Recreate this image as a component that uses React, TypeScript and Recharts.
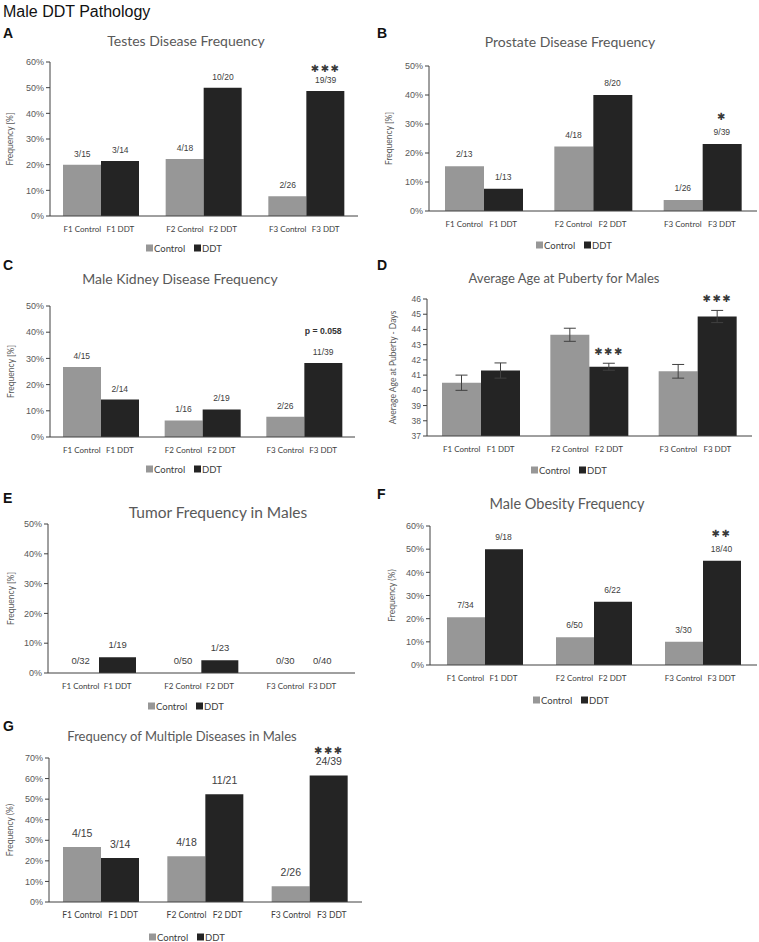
import { ComposedChart, Bar, Line, XAxis, YAxis, LabelList, ErrorBar } from 'recharts';

const generations = ['F1', 'F2', 'F3'];

// A - testes
const testesControl = [20.0, 22.2, 7.7];
const testesDDT = [21.4, 50.0, 48.7];
const testesControlLabels = ['3/15', '4/18', '2/26'];
const testesDDTLabels = ['3/14', '10/20', '19/39'];
const testesSig = ['', '', '✱✱✱'];

// B - prostate
const prostateControl = [15.4, 22.2, 3.8];
const prostateDDT = [7.7, 40.0, 23.1];
const prostateControlLabels = ['2/13', '4/18', '1/26'];
const prostateDDTLabels = ['1/13', '8/20', '9/39'];
const prostateSig = ['', '', '✱'];

// C - kidney
const kidneyControl = [26.7, 6.3, 7.7];
const kidneyDDT = [14.3, 10.5, 28.2];
const kidneyControlLabels = ['4/15', '1/16', '2/26'];
const kidneyDDTLabels = ['2/14', '2/19', '11/39'];
const kidneySig = ['', '', 'p = 0.058'];

// D - puberty age (days)
const pubertyControl = [40.5, 43.65, 41.25];
const pubertyDDT = [41.3, 41.55, 44.85];
const pubertyControlErr = [0.5, 0.43, 0.45];
const pubertyDDTErr = [0.5, 0.23, 0.4];
const pubertySig = ['', '✱✱✱', '✱✱✱'];

// E - tumor
const tumorControl = [0, 0, 0];
const tumorDDT = [5.3, 4.3, 0];
const tumorControlLabels = ['0/32', '0/50', '0/30'];
const tumorDDTLabels = ['1/19', '1/23', '0/40'];

// F - obesity
const obesityControl = [20.6, 12.0, 10.0];
const obesityDDT = [50.0, 27.3, 45.0];
const obesityControlLabels = ['7/34', '6/50', '3/30'];
const obesityDDTLabels = ['9/18', '6/22', '18/40'];
const obesitySig = ['', '', '✱✱'];

// G - multiple diseases
const multipleControl = [26.7, 22.2, 7.7];
const multipleDDT = [21.4, 52.4, 61.5];
const multipleControlLabels = ['4/15', '4/18', '2/26'];
const multipleDDTLabels = ['3/14', '11/21', '24/39'];
const multipleSig = ['', '', '✱✱✱'];

const CONTROL = '#979797';
const DDT = '#242424';
const AXIS = '#404040';
const SANS = 'Lato, "Open Sans", sans-serif';
const ARIAL = '"Liberation Sans", Arial, sans-serif';

const rowsOf = (c: number[], d: number[], cl?: string[], dl?: string[], sig?: string[], ce?: number[], de?: number[]) =>
  generations.map((g, i) => ({
    gen: g,
    control: c[i],
    ddt: d[i],
    cLab: cl ? cl[i] : null,
    dLab: dl ? dl[i] : null,
    sig: sig && sig[i] ? sig[i] : null,
    cErr: ce ? ce[i] : 0,
    dErr: de ? de[i] : 0,
  }));

const range = (a: number, b: number, s: number) => {
  const out: number[] = [];
  for (let v = a; v <= b; v += s) out.push(v);
  return out;
};

const panels = [
  {
    key: 'A', left: 0, plot: { x0: 50, x1: 358, y0: 62, y1: 216 }, domain: [0, 60], ticks: range(0, 60, 10), pct: true,
    rows: rowsOf(testesControl, testesDDT, testesControlLabels, testesDDTLabels, testesSig),
    barSize: 38, yLabel: 'Frequency [%]', yLabelX: 10, labelSize: 8.5, labelOffset: 8, sigOffset: 19, tickSize: 8, tickSpread: 0,
  },
  {
    key: 'B', left: 380, plot: { x0: 429, x1: 757, y0: 66, y1: 211 }, domain: [0, 50], ticks: range(0, 50, 10), pct: true,
    rows: rowsOf(prostateControl, prostateDDT, prostateControlLabels, prostateDDTLabels, prostateSig),
    barSize: 39, yLabel: 'Frequency [%]', yLabelX: 389, labelSize: 8.5, labelOffset: 9, sigOffset: 24, tickSize: 8, tickSpread: 0,
  },
  {
    key: 'C', left: 0, plot: { x0: 50, x1: 355, y0: 306, y1: 437 }, domain: [0, 50], ticks: range(0, 50, 10), pct: true,
    rows: rowsOf(kidneyControl, kidneyDDT, kidneyControlLabels, kidneyDDTLabels, kidneySig),
    barSize: 38, yLabel: 'Frequency [%]', yLabelX: 11, labelSize: 8.5, labelOffset: 8, sigOffset: 29, tickSize: 8, tickSpread: 0, sigText: true,
  },
  {
    key: 'D', left: 380, plot: { x0: 427, x1: 752, y0: 299, y1: 436 }, domain: [37, 46], ticks: range(37, 46, 1), pct: false,
    rows: rowsOf(pubertyControl, pubertyDDT, undefined, undefined, pubertySig, pubertyControlErr, pubertyDDTErr),
    barSize: 39, yLabel: 'Average  Age at Puberty - Days', yLabelX: 393, labelSize: 8.5, labelOffset: 8, sigOffset: 8, tickSize: 8, tickSpread: 0, errors: true,
  },
  {
    key: 'E', left: 0, plot: { x0: 48, x1: 355, y0: 524, y1: 673 }, domain: [0, 50], ticks: range(0, 50, 10), pct: true,
    rows: rowsOf(tumorControl, tumorDDT, tumorControlLabels, tumorDDTLabels),
    barSize: 37, yLabel: 'Frequency [%]', yLabelX: 11, labelSize: 9.5, labelOffset: 9, sigOffset: 20, tickSize: 8, tickSpread: 0,
  },
  {
    key: 'F', left: 380, plot: { x0: 430, x1: 757, y0: 526, y1: 665 }, domain: [0, 60], ticks: range(0, 60, 10), pct: true,
    rows: rowsOf(obesityControl, obesityDDT, obesityControlLabels, obesityDDTLabels, obesitySig),
    barSize: 38, yLabel: 'Frequency (%)', yLabelX: 392, labelSize: 8.5, labelOffset: 9, sigOffset: 24, tickSize: 8, tickSpread: 0,
  },
  {
    key: 'G', left: 0, plot: { x0: 49, x1: 362, y0: 758, y1: 902 }, domain: [0, 70], ticks: range(0, 70, 10), pct: true,
    rows: rowsOf(multipleControl, multipleDDT, multipleControlLabels, multipleDDTLabels, multipleSig),
    barSize: 38, yLabel: 'Frequency (%)', yLabelX: 10, labelSize: 10.5, labelOffset: 10, sigOffset: 21, tickSize: 8.5, tickSpread: 3,
  },
];

// titles, letters and legends drawn over the charts
const titles = [
  { text: 'Testes Disease Frequency', x: 186, y: 46, size: 14 },
  { text: 'Prostate Disease Frequency', x: 570, y: 47, size: 14 },
  { text: 'Male Kidney Disease Frequency', x: 180, y: 284, size: 14 },
  { text: 'Average Age at Puberty for Males', x: 564, y: 283, size: 13 },
  { text: 'Tumor Frequency in Males', x: 218, y: 518, size: 15.5 },
  { text: 'Male Obesity Frequency', x: 567, y: 509, size: 14.5 },
  { text: 'Frequency of Multiple Diseases in Males', x: 182, y: 741, size: 13 },
];
const letters = [
  { text: 'A', x: 3, y: 38 }, { text: 'B', x: 377, y: 38 },
  { text: 'C', x: 3, y: 270 }, { text: 'D', x: 377, y: 270 },
  { text: 'E', x: 3, y: 503 }, { text: 'F', x: 377, y: 499 },
  { text: 'G', x: 3, y: 731 },
];
const legends = [
  { x: 182, y: 248 }, { x: 572, y: 245 }, { x: 182, y: 469 }, { x: 567, y: 470 },
  { x: 184, y: 706 }, { x: 569, y: 700 }, { x: 185, y: 937 },
];

const genTick = (half: number, spread: number, size: number) => (props: any) => {
  const { x, y, payload } = props;
  return (
    <g>
      <text x={x - half} y={y + 16} textAnchor="middle" fontSize={size} fill={AXIS} fontFamily={SANS}>
        {`${payload.value} Control`}
      </text>
      <text x={x + half + spread} y={y + 16} textAnchor="middle" fontSize={size} fill={AXIS} fontFamily={SANS}>
        {`${payload.value} DDT`}
      </text>
    </g>
  );
};

// label placed above a bar: shift from the category centre to the bar centre
const barLabel = (shift: number, offset: number, style: any) => (props: any) => {
  const { x, y, value } = props;
  if (value == null || value === '') return null;
  return (
    <text x={x + shift} y={y - offset} textAnchor="middle" {...style}>
      {value}
    </text>
  );
};

function Panel({ p }: { p: any }) {
  const { plot, left } = p;
  const top = plot.y0 - 40;
  const bottom = plot.y1 + 22;
  const right = Math.min(759, plot.x1 + 2);
  const half = p.barSize / 2;
  const labStyle = { fontSize: p.labelSize, fill: '#404040', fontFamily: ARIAL };
  const sigStyle = p.sigText
    ? { fontSize: 8.7, fontWeight: 700, fill: '#333', fontFamily: ARIAL }
    : { fontSize: 10, fill: '#3a3a3a', fontFamily: '"DejaVu Sans", sans-serif', letterSpacing: 1.5 };
  return (
    <div style={{ position: 'absolute', left, top }}>
      <ComposedChart
        width={right - left}
        height={bottom - top}
        data={p.rows}
        margin={{ top: plot.y0 - top, right: right - plot.x1, bottom: 0, left: 0 }}
        barGap={0}
        barSize={p.barSize}
      >
        <XAxis
          dataKey="gen"
          height={bottom - plot.y1}
          tickSize={0}
          tickMargin={0}
          interval={0}
          axisLine={{ stroke: AXIS }}
          tick={genTick(half, p.tickSpread, p.tickSize)}
        />
        <YAxis
          width={plot.x0 - left}
          domain={p.domain}
          ticks={p.ticks}
          interval={0}
          tickSize={4}
          tickMargin={2}
          axisLine={{ stroke: AXIS }}
          tickLine={{ stroke: AXIS }}
          tick={{ fontSize: p.key === 'D' ? 8.5 : 9, fill: '#595959', fontFamily: ARIAL }}
          tickFormatter={(v: number) => (p.pct ? `${v}%` : `${v}`)}
          label={{
            value: p.yLabel,
            angle: -90,
            position: 'insideLeft',
            offset: p.yLabelX - left,
            style: { textAnchor: 'middle', fontSize: 8.5, fill: '#595959', fontFamily: SANS },
          }}
        />
        <Bar dataKey="control" fill={CONTROL} isAnimationActive={false}>
          {p.errors && <ErrorBar dataKey="cErr" width={6} stroke={AXIS} strokeWidth={1} direction="y" />}
        </Bar>
        <Bar dataKey="ddt" fill={DDT} isAnimationActive={false}>
          {p.errors && <ErrorBar dataKey="dErr" width={6} stroke={AXIS} strokeWidth={1} direction="y" />}
        </Bar>
        {/* invisible series carrying the count labels and significance marks */}
        <Line dataKey="control" stroke="none" dot={false} activeDot={false} isAnimationActive={false}>
          <LabelList dataKey="cLab" content={barLabel(-half, p.labelOffset, labStyle)} />
        </Line>
        <Line dataKey="ddt" stroke="none" dot={false} activeDot={false} isAnimationActive={false}>
          <LabelList dataKey="dLab" content={barLabel(half, p.labelOffset, labStyle)} />
        </Line>
        <Line
          dataKey={(r: any) => r.ddt + r.dErr}
          stroke="none"
          dot={false}
          activeDot={false}
          isAnimationActive={false}
        >
          <LabelList dataKey="sig" content={barLabel(half, p.sigOffset, sigStyle)} />
        </Line>
      </ComposedChart>
    </div>
  );
}

export default function App() {
  return (
    <div style={{ position: 'absolute', left: 0, top: 0, width: 759, height: 942, background: '#fff', overflow: 'hidden' }}>
      {panels.map((p) => (
        <Panel key={p.key} p={p} />
      ))}
      <svg width={759} height={942} style={{ position: 'absolute', left: 0, top: 0, pointerEvents: 'none' }}>
        <text x={3} y={17} fontSize={16} fontFamily={ARIAL} fill="#111">Male DDT Pathology</text>
        {letters.map((l) => (
          <text key={l.text} x={l.x} y={l.y} fontSize={14} fontWeight={700} fontFamily={ARIAL} fill="#111">{l.text}</text>
        ))}
        {titles.map((t) => (
          <text key={t.text} x={t.x} y={t.y} fontSize={t.size} textAnchor="middle" fontFamily={SANS} fill="#595959">{t.text}</text>
        ))}
        {legends.map((l, i) => (
          <g key={i}>
            <rect x={l.x - 36} y={l.y - 3.5} width={7} height={7} fill={CONTROL} />
            <text x={l.x - 28} y={l.y + 3.5} fontSize={9.5} fontFamily={SANS} fill={AXIS}>Control</text>
            <rect x={l.x + 12} y={l.y - 3.5} width={7} height={7} fill={DDT} />
            <text x={l.x + 20} y={l.y + 3.5} fontSize={9.5} fontFamily={SANS} fill={AXIS}>DDT</text>
          </g>
        ))}
      </svg>
    </div>
  );
}
